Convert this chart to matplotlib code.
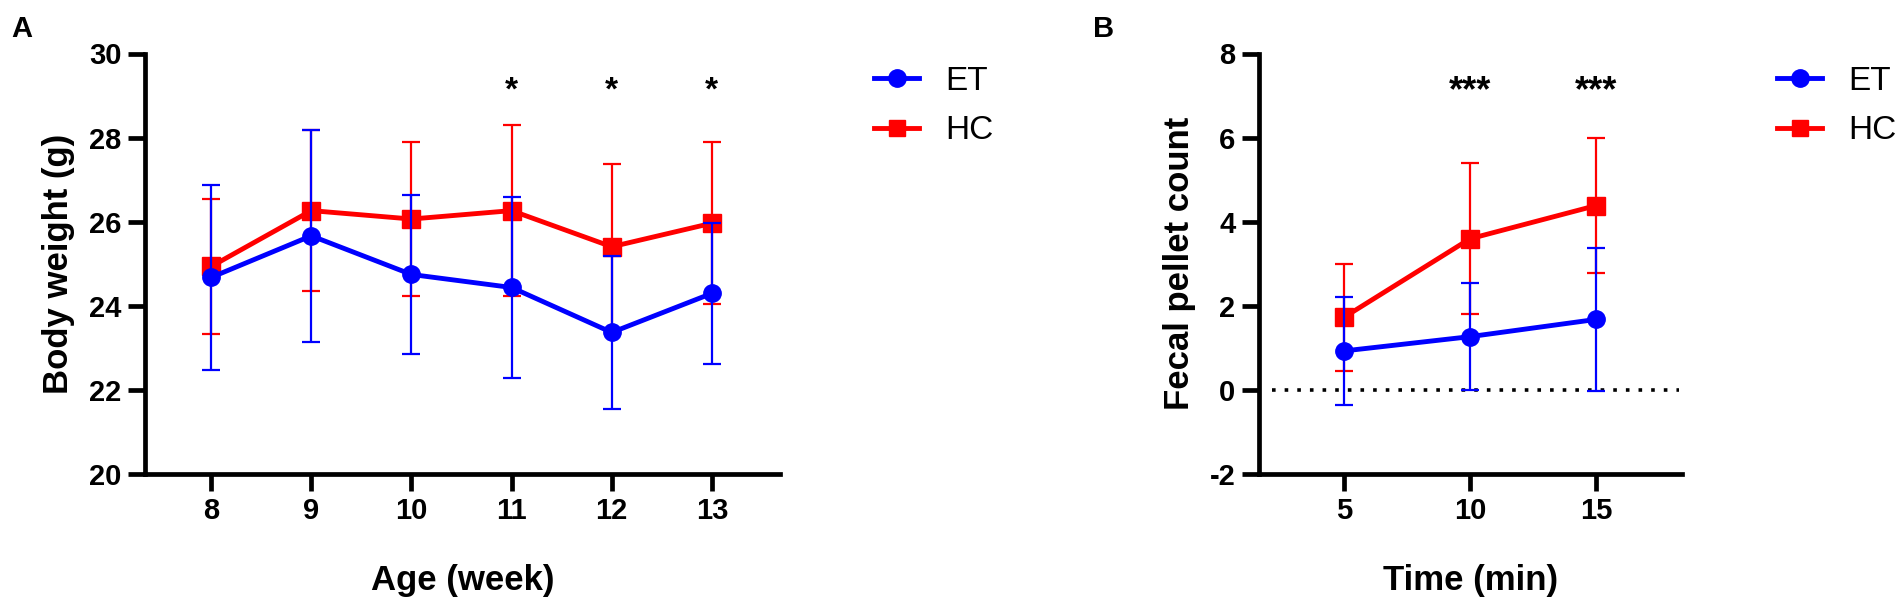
import matplotlib
matplotlib.use("Agg")
import matplotlib.pyplot as plt
from matplotlib.lines import Line2D

plt.rcParams['font.family'] = ['Liberation Sans', 'DejaVu Sans']
plt.rcParams['axes.unicode_minus'] = False

# ---- Panel A data: body weight ----
weeks = [8, 9, 10, 11, 12, 13]
et_weight = [24.67, 25.66, 24.74, 24.43, 23.36, 24.29]
et_weight_sd = [2.20, 2.52, 1.90, 2.15, 1.82, 1.68]
hc_weight = [24.93, 26.26, 26.06, 26.26, 25.40, 25.96]
hc_weight_sd = [1.60, 1.91, 1.83, 2.04, 1.96, 1.93]
sig_weeks = [11, 12, 13]
sig_weeks_label = ['*', '*', '*']

# ---- Panel B data: fecal pellets ----
times = [5, 10, 15]
et_pellet = [0.92, 1.26, 1.67]
et_pellet_sd = [1.28, 1.27, 1.71]
hc_pellet = [1.72, 3.59, 4.38]
hc_pellet_sd = [1.28, 1.80, 1.60]
sig_times = [10, 15]
sig_times_label = ['***', '***']

BLUE = '#0000ff'
RED = '#ff0000'

W, H = 1902, 608
fig = plt.figure(figsize=(W / 100, H / 100), dpi=100)

def px_axes(left, top, right, bottom):
    return fig.add_axes([left / W, 1 - bottom / H, (right - left) / W, (bottom - top) / H])

axA = px_axes(145, 53.5, 780, 473.6)
axB = px_axes(1259, 53.5, 1682, 473.6)

def style(ax):
    for s in ['top', 'right']:
        ax.spines[s].set_visible(False)
    for s in ['left', 'bottom']:
        ax.spines[s].set_linewidth(3.4)
        ax.spines[s].set_capstyle('projecting')
    ax.tick_params(width=3.4, length=12, pad=5, labelsize=21)
    for lab in ax.get_xticklabels() + ax.get_yticklabels():
        lab.set_fontweight('bold')

def series(ax, x, y, sd, color, marker, ms, z):
    ax.errorbar(x, y, yerr=sd, color=color, ecolor=color, elinewidth=1.6,
                capsize=6.2, capthick=1.6, lw=3.5, marker=marker, ms=ms,
                mec=color, mfc=color, zorder=z)

def legend_at(x_px, top_px):
    handles = [Line2D([], [], color=BLUE, lw=3.5, marker='o', ms=12.5),
               Line2D([], [], color=RED, lw=3.5, marker='s', ms=11.5)]
    fig.legend(handles, ['ET', 'HC'], loc='upper left',
               bbox_to_anchor=(x_px / W, 1 - top_px / H), frameon=False,
               fontsize=24, handlelength=1.35, handletextpad=0.8,
               labelspacing=0.55, borderaxespad=0, borderpad=0)

# Panel A
series(axA, weeks, hc_weight, hc_weight_sd, RED, 's', 12.5, 3)
series(axA, weeks, et_weight, et_weight_sd, BLUE, 'o', 12.5, 4)
axA.set_xlim(7.34, 13.68)
axA.set_ylim(20, 30)
axA.set_xticks(weeks)
axA.set_yticks([20, 22, 24, 26, 28, 30])
style(axA)
axA.set_xlabel('Age (week)', fontsize=25, fontweight='bold', labelpad=28)
axA.set_ylabel('Body weight (g)', fontsize=25, fontweight='bold', labelpad=10)
for xs, s in zip(sig_weeks, sig_weeks_label):
    axA.text(xs, 29.1, s, ha='center', va='center', fontsize=24, fontweight='bold')
legend_at(874, 66)

# Panel B
axB.axhline(0, color='black', lw=2.6, linestyle=(0, (1, 2.5)),
            xmin=(1272 - 1259) / (1682 - 1259), xmax=(1679 - 1259) / (1682 - 1259), zorder=1)
series(axB, times, hc_pellet, hc_pellet_sd, RED, 's', 12.5, 3)
series(axB, times, et_pellet, et_pellet_sd, BLUE, 'o', 12.5, 4)
axB.set_xlim(1.63, 18.41)
axB.set_ylim(-2, 8)
axB.set_xticks(times)
axB.set_yticks([-2, 0, 2, 4, 6, 8])
style(axB)
axB.set_xlabel('Time (min)', fontsize=25, fontweight='bold', labelpad=28)
axB.set_ylabel('Fecal pellet count', fontsize=25, fontweight='bold', labelpad=10)
for xs, s in zip(sig_times, sig_times_label):
    axB.text(xs, 7.1, s, ha='center', va='center', fontsize=26, fontweight='bold')
legend_at(1777, 66)

fig.text(22 / W, 1 - 29 / H, 'A', fontsize=21, fontweight='bold', ha='center', va='center')
fig.text(1104 / W, 1 - 29 / H, 'B', fontsize=21, fontweight='bold', ha='center', va='center')

fig.savefig('out.png', dpi=100)
